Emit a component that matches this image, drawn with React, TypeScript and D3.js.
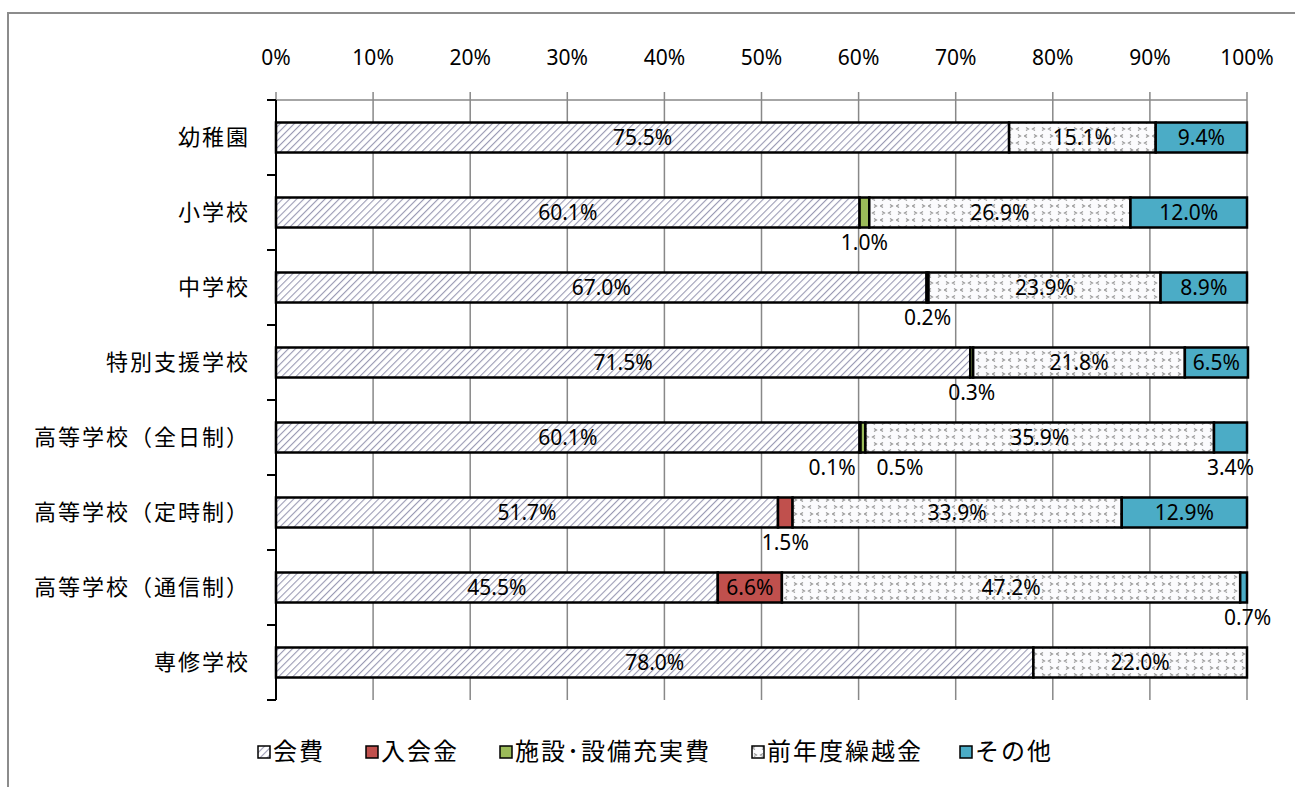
import * as d3 from 'd3';

const categories = [
  '幼稚園',
  '小学校',
  '中学校',
  '特別支援学校',
  '高等学校（全日制）',
  '高等学校（定時制）',
  '高等学校（通信制）',
  '専修学校',
];

const seriesNames = ['会費', '入会金', '施設･設備充実費', '前年度繰越金', 'その他'];

// values in %, one array per series, in category order
const kaihi = [75.5, 60.1, 67.0, 71.5, 60.1, 51.7, 45.5, 78.0];
const nyukaikin = [0, 0, 0, 0, 0.1, 1.5, 6.6, 0];
const shisetsu = [0, 1.0, 0.2, 0.3, 0.5, 0, 0, 0];
const kurikoshi = [15.1, 26.9, 23.9, 21.8, 35.9, 33.9, 47.2, 22.0];
const sonota = [9.4, 12.0, 8.9, 6.5, 3.4, 12.9, 0.7, 0];

const seriesValues = [kaihi, nyukaikin, shisetsu, kurikoshi, sonota];
const xTicks = [0, 10, 20, 30, 40, 50, 60, 70, 80, 90, 100];

const fills = ['url(#hatch)', '#c0504d', '#9bbb59', 'url(#dots)', '#4bacc6'];
// small labels drawn under the bar, nudged sideways: key "row-series"
const nudges: Record<string, number> = { '4-1': -28, '4-2': 37, '6-4': 4 };

const W = 1295;
const H = 787;
const margin = { top: 100, right: 48, bottom: 87, left: 276 };
const FONT = '"Noto Sans CJK JP", "Noto Sans", sans-serif';
const NUM = '"Noto Sans", "Open Sans", sans-serif';

export default function App() {
  const x = d3.scaleLinear().domain([0, 100]).range([margin.left, W - margin.right]);
  const y = d3.scaleBand<string>()
    .domain(categories)
    .range([margin.top, H - margin.bottom])
    .paddingInner(0.6)
    .paddingOuter(0.3);
  const step = y.step();
  const [y0, y1] = y.range();

  const rows = categories.map((c, i) => {
    const vals = seriesValues.map(s => s[i]);
    const ends = d3.cumsum(vals);
    return vals.map((v, j) => ({ cat: c, row: i, s: j, v, x0: ends[j] - v, x1: ends[j] }));
  });

  const legendX = [258, 366, 500, 752, 960];

  return (
    <svg width={W} height={H} style={{ position: 'absolute', left: 0, top: 0, background: '#fff' }} fontFamily={FONT}>
      <defs>
        <pattern id="hatch" patternUnits="userSpaceOnUse" width={5} height={5} patternTransform="rotate(45)">
          <rect width={5} height={5} fill="#fff" />
          <line x1={0} y1={0} x2={0} y2={5} stroke="#9a9ab4" strokeWidth={2.2} />
        </pattern>
        <pattern id="dots" patternUnits="userSpaceOnUse" width={16} height={14}>
          <rect width={16} height={14} fill="#fbfbfd" />
          <path d="M2,1.5 L4.5,3 L2,4.5 M11,1.5 L8.5,3 L11,4.5 M10,8.5 L12.5,10 L10,11.5 M3,8.5 L0.5,10 L3,11.5"
            fill="none" stroke="#999" strokeWidth={1.2} />
        </pattern>
      </defs>

      <rect x={8} y={13} width={W + 20} height={H + 20} fill="none" stroke="#8c8c8c" strokeWidth={2} />

      {/* gridlines and top axis */}
      {xTicks.map(t => (
        <g key={t}>
          <line x1={x(t)} x2={x(t)} y1={y0 - 8} y2={y1} stroke="#888" strokeWidth={1.5} />
          <text x={x(t)} y={58} dy="0.35em" textAnchor="middle" fontFamily={NUM} fontSize={21} fill="#000">{t}%</text>
        </g>
      ))}
      <line x1={x(0)} x2={x(100)} y1={y0} y2={y0} stroke="#888" strokeWidth={1.5} />

      {/* category axis */}
      <line x1={margin.left} x2={margin.left} y1={y0} y2={y1} stroke="#000" strokeWidth={2} />
      {d3.range(categories.length + 1).map(k => (
        <line key={k} x1={margin.left - 9} x2={margin.left} y1={y0 + k * step} y2={y0 + k * step} stroke="#000" strokeWidth={2} />
      ))}
      {categories.map(c => (
        <text key={c} x={250} y={(y(c) ?? 0) + y.bandwidth() / 2} dy="0.35em" textAnchor="end"
          fontSize={22} letterSpacing={2} fill="#000">{c}</text>
      ))}

      {/* bars */}
      {rows.map(segs => segs.filter(d => d.v > 0).map(d => (
        <rect key={`${d.row}-${d.s}`} x={x(d.x0)} y={y(d.cat)} width={x(d.x1) - x(d.x0)} height={y.bandwidth()}
          fill={fills[d.s]} stroke="#000" strokeWidth={2.5} />
      )))}

      {/* data labels */}
      {rows.map(segs => segs.filter(d => d.v > 0).map(d => {
        const cx = x((d.x0 + d.x1) / 2);
        const top = y(d.cat) ?? 0;
        const inside = d.v >= 5;
        const dx = nudges[`${d.row}-${d.s}`] ?? 0;
        return (
          <text key={`l${d.row}-${d.s}`} x={cx + dx} y={inside ? top + y.bandwidth() / 2 : top + y.bandwidth() + 15}
            dy="0.35em" textAnchor="middle" fontFamily={NUM} fontSize={21} fill="#000">{d.v.toFixed(1)}%</text>
        );
      }))}

      {/* legend */}
      {seriesNames.map((n, i) => (
        <g key={n} transform={`translate(${legendX[i]},752)`}>
          <rect x={0} y={-6} width={12} height={12} fill={fills[i]} stroke="#000" strokeWidth={1.5} />
          <text x={15} y={0} dy="0.35em" fontSize={24} letterSpacing={2} fill="#000">{n}</text>
        </g>
      ))}
    </svg>
  );
}
